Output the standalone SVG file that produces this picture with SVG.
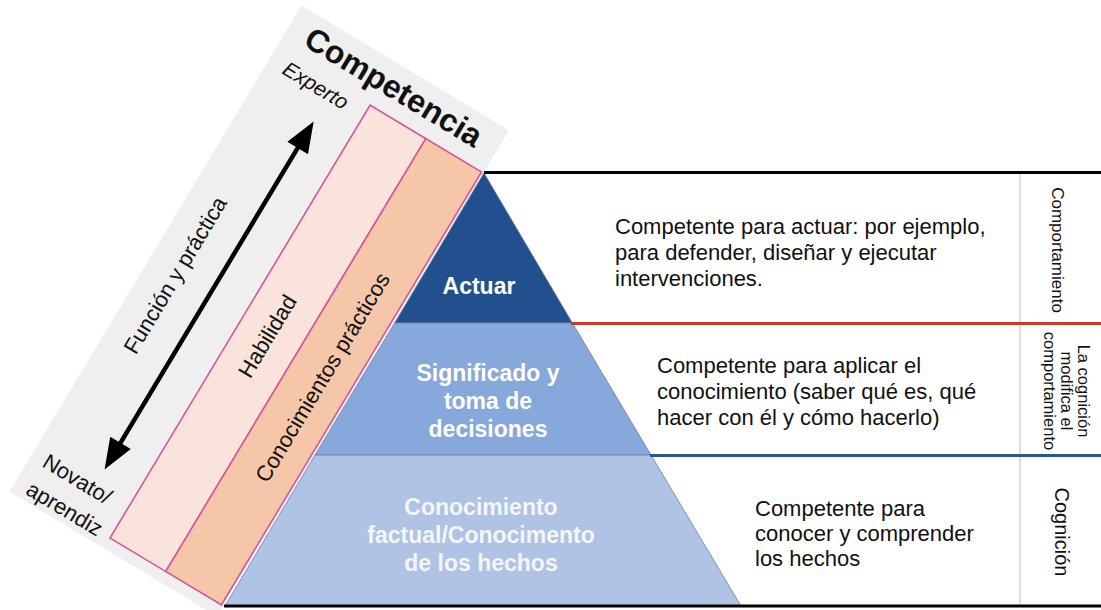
<svg xmlns="http://www.w3.org/2000/svg" width="1101" height="610" viewBox="0 0 1101 610">
<style>
  text { font-family: "Liberation Sans", Arial, Helvetica, sans-serif; fill: #111; }
  .strip { stroke: #d6559c; stroke-width: 1.6; }
  .tier { stroke: #6b7f9e; stroke-width: 0.8; }
  .ptxt { font-weight: bold; font-size: 23px; fill: #ffffff; text-anchor: middle; }
  .desc { font-size: 22px; fill: #111; }
  .side { font-size: 16.5px; fill: #111; text-anchor: middle; }
  .rot { font-size: 22px; fill: #111; text-anchor: middle; }
</style>
<rect width="1101" height="610" fill="#ffffff"/>

<!-- tilted competence panel -->
<g id="panel" transform="translate(110,538) rotate(-59)">
  <rect x="-12" y="-110" width="567" height="242" fill="#efefef"/>
  <g id="habilidad">
    <rect class="strip" x="0" y="0" width="505" height="65" fill="#f9e3da"/>
    <text class="rot" x="254" y="38.5">Habilidad</text>
  </g>
  <g id="conocimientos-practicos">
    <rect class="strip" x="0" y="65" width="505" height="65" fill="#f5c6a8"/>
    <text class="rot" x="247" y="107">Conocimientos prácticos</text>
  </g>
  <g id="eje">
    <line x1="84" y1="-40" x2="434" y2="-40" stroke="#000" stroke-width="4.5"/>
    <polygon points="462,-40 431,-52 431,-28" fill="#000"/>
    <polygon points="56,-40 87,-52 87,-28" fill="#000"/>
    <text class="rot" x="259" y="-72">Función y práctica</text>
  </g>
</g>
<g id="titulo">
  <text x="388" y="96.5" transform="rotate(31 388 96.5)" text-anchor="middle" font-weight="bold" font-size="32px">Competencia</text>
  <text x="281" y="73" transform="rotate(31 281 73)" font-style="italic" font-size="21px">Experto</text>
  <g transform="translate(41,466) rotate(31)">
    <text x="0" y="0" font-size="22px">Novato/</text>
    <text x="0" y="32" font-size="22px">aprendiz</text>
  </g>
</g>

<!-- pyramid -->
<g id="tier-actuar">
  <polygon class="tier" points="484,173 572.4,323 394.6,323" fill="#22508e"/>
  <text class="ptxt" x="479" y="294">Actuar</text>
</g>
<g id="tier-significado">
  <polygon class="tier" points="394.6,323 572.4,323 651,455 315,455" fill="#86a8da"/>
  <text class="ptxt" x="488" y="381">Significado y</text>
  <text class="ptxt" x="488" y="409">toma de</text>
  <text class="ptxt" x="488" y="437">decisiones</text>
</g>
<g id="tier-conocimiento">
  <polygon class="tier" points="315,455 651,455 741,606 225,606" fill="#afc3e4"/>
  <text class="ptxt" x="481" y="515" style="fill:#f4f6fb">Conocimiento</text>
  <text class="ptxt" x="481" y="543" style="fill:#f4f6fb">factual/Conocimento</text>
  <text class="ptxt" x="481" y="571" style="fill:#f4f6fb">de los hechos</text>
</g>

<!-- connectors / separator lines -->
<g id="lines" fill="none">
  <line x1="1020" y1="174" x2="1020" y2="604" stroke="#dedede" stroke-width="2"/>
  <line x1="484" y1="172.5" x2="1101" y2="172.5" stroke="#000" stroke-width="3"/>
  <line x1="571" y1="323.5" x2="1101" y2="323.5" stroke="#d2372c" stroke-width="3"/>
  <line x1="650" y1="455.5" x2="1101" y2="455.5" stroke="#2b5596" stroke-width="3"/>
  <line x1="224" y1="606" x2="1101" y2="606" stroke="#000" stroke-width="3"/>
</g>

<!-- descriptions -->
<g id="desc-actuar">
  <text class="desc" x="615" y="234">Competente para actuar: por ejemplo,</text>
  <text class="desc" x="615" y="260">para defender, diseñar y ejecutar</text>
  <text class="desc" x="615" y="286">intervenciones.</text>
</g>
<g id="desc-significado">
  <text class="desc" x="657" y="373">Competente para aplicar el</text>
  <text class="desc" x="657" y="399">conocimiento (saber qué es, qué</text>
  <text class="desc" x="657" y="425">hacer con él y cómo hacerlo)</text>
</g>
<g id="desc-conocimiento">
  <text class="desc" x="755" y="516">Competente para</text>
  <text class="desc" x="755" y="541">conocer y comprender</text>
  <text class="desc" x="755" y="566">los hechos</text>
</g>

<!-- side labels -->
<g id="label-comportamiento">
  <text class="side" transform="translate(1052,250) rotate(90)" style="font-size:17px">Comportamiento</text>
</g>
<g id="label-cognicion-modifica">
  <g transform="translate(1078,391) rotate(90)">
    <text class="side" x="0" y="0">La cognición</text>
    <text class="side" x="0" y="17">modifica el</text>
    <text class="side" x="0" y="34">comportamiento</text>
  </g>
</g>
<g id="label-cognicion">
  <text class="side" transform="translate(1055,532) rotate(90)" style="font-size:20px">Cognición</text>
</g>
</svg>
